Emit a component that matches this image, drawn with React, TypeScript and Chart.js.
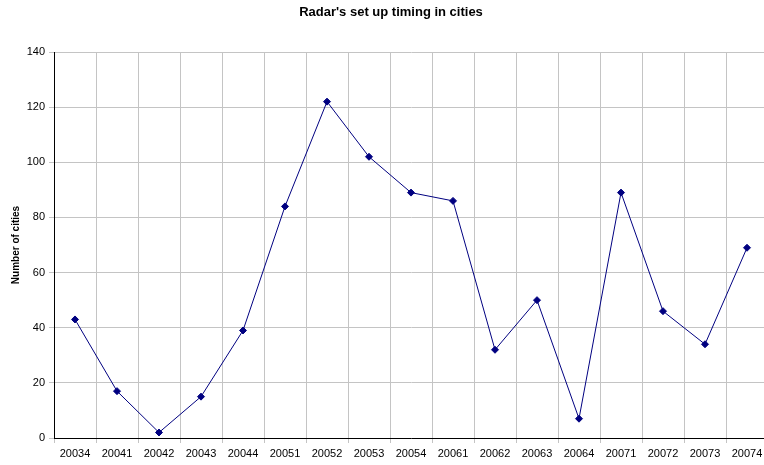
import React, { useEffect, useRef } from "react";
import { Chart, registerables } from "chart.js";

Chart.register(...registerables);

const quarters = [
  "20034", "20041", "20042", "20043", "20044", "20051", "20052", "20053", "20054",
  "20061", "20062", "20063", "20064", "20071", "20072", "20073", "20074",
];
const cityCounts = [43, 17, 2, 15, 39, 84, 122, 102, 89, 86, 32, 50, 7, 89, 46, 34, 69];
const chartTitle = "Radar's set up timing in cities";

const FONT = "Arial, 'Liberation Sans', sans-serif";
const NAVY = "#000080";

// Title centred over the whole drawing, independent of the axis layout.
const titlePlugin = {
  id: "centredTitle",
  afterDraw(chart: any) {
    const ctx = chart.ctx;
    ctx.save();
    ctx.font = `bold 13px ${FONT}`;
    ctx.fillStyle = "#000";
    ctx.textAlign = "center";
    ctx.textBaseline = "middle";
    ctx.fillText(chartTitle, chart.width / 2, 12);
    ctx.restore();
  },
};

export default function App() {
  const canvasRef = useRef<HTMLCanvasElement | null>(null);

  useEffect(() => {
    document.body.style.margin = "0";
    const canvas = canvasRef.current;
    if (!canvas) return;
    const chart = new Chart(canvas, {
      type: "line",
      data: {
        labels: quarters,
        datasets: [
          {
            data: cityCounts,
            borderColor: NAVY,
            backgroundColor: NAVY,
            borderWidth: 1,
            pointStyle: "rectRot",
            pointRadius: 3.5,
            pointBorderWidth: 1,
            tension: 0,
          },
        ],
      },
      plugins: [titlePlugin],
      options: {
        animation: false,
        responsive: false,
        devicePixelRatio: 1,
        layout: { padding: { left: 0, right: 14, top: 52, bottom: 0 } },
        plugins: {
          legend: { display: false },
          tooltip: { enabled: false },
          title: { display: false },
        },
        scales: {
          x: {
            offset: true,
            grid: {
              offset: true,
              color: "#c4c4c4",
              lineWidth: 1,
              tickLength: 5,
            },
            border: { color: "#000", width: 1 },
            ticks: {
              color: "#000",
              font: { family: FONT, size: 11 },
              maxRotation: 0,
              autoSkip: false,
              padding: 4,
            },
            afterFit: (scale: any) => {
              scale.height = 27;
            },
          },
          y: {
            min: 0,
            max: 140,
            grid: {
              color: "#c4c4c4",
              lineWidth: 1,
              tickLength: 5,
            },
            border: { color: "#000", width: 1 },
            ticks: {
              stepSize: 20,
              color: "#000",
              font: { family: FONT, size: 11 },
              padding: 4,
            },
            title: {
              display: true,
              text: "Number of cities",
              color: "#000",
              font: { family: FONT, size: 10, weight: "bold" },
              padding: { top: 10, bottom: 0 },
            },
            afterFit: (scale: any) => {
              scale.width = 54;
            },
          },
        },
      },
    });
    return () => chart.destroy();
  }, []);

  return (
    <div style={{ width: 764, height: 465, overflow: "hidden" }}>
      <canvas ref={canvasRef} width={782} height={465} style={{ display: "block" }} />
    </div>
  );
}
